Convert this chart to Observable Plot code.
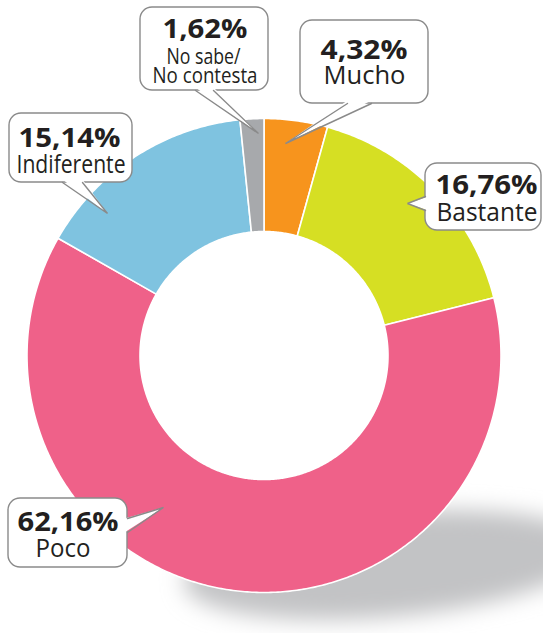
<!DOCTYPE html>
<html><head><meta charset="utf-8">
<script src="https://cdn.jsdelivr.net/npm/d3@7"></script>
<script src="https://cdn.jsdelivr.net/npm/@observablehq/plot@0.6"></script>
<style>html,body{margin:0;padding:0;background:#fff}svg{display:block}</style>
</head><body><div id="chart"></div>
<script>
// ---- data ----
const categories = ["Mucho", "Bastante", "Poco", "Indiferente", "No sabe/No contesta"];
const values = [4.32, 16.76, 62.16, 15.14, 1.62];
const pctLabels = ["4,32%", "16,76%", "62,16%", "15,14%", "1,62%"];
const nameLines = [["Mucho"], ["Bastante"], ["Poco"], ["Indiferente"], ["No sabe/", "No contesta"]];
const colors = ["#f7941d", "#d6df23", "#ef6189", "#7fc3e0", "#a7a9ac"];

// ---- layout ----
const W = 543, H = 633;
const CX = 263.5, CY = 355, R_OUT = 237, R_IN = 124;
const callouts = [
  {x0: 300, y0: 20, x1: 428, y1: 103, edge: "bottom", b1: 347, b2: 371, tip: [285, 143],
   lines: [{cx: 363.5, by: 58, w: 87}, {cx: 364, by: 83, w: 82}]},
  {x0: 425, y0: 163, x1: 541, y1: 230, edge: "left", b1: 196, b2: 210, tip: [407, 203],
   lines: [{cx: 486, by: 193, w: 102}, {cx: 486.5, by: 220, w: 101}]},
  {x0: 8, y0: 498, x1: 127, y1: 567, edge: "right", b1: 518, b2: 532, tip: [163, 507],
   lines: [{cx: 67.5, by: 530, w: 101}, {cx: 62.5, by: 556, w: 55}]},
  {x0: 9, y0: 113, x1: 132, y1: 182, edge: "bottom", b1: 62, b2: 82, tip: [107, 213],
   lines: [{cx: 69, by: 146, w: 102}, {cx: 70.5, by: 172, w: 109}]},
  {x0: 140, y0: 7, x1: 268, y1: 90, edge: "bottom", b1: 195, b2: 213, tip: [258, 133],
   lines: [{cx: 204.5, by: 37, w: 85}, {cx: 203, by: 63, w: 74}, {cx: 204.5, by: 82, w: 105}]}
];

// ---- slice polygons from the values ----
const total = d3.sum(values);
const slicePts = [];
let acc = 0;
categories.forEach((c, i) => {
  const a0 = acc / total * 2 * Math.PI; acc += values[i];
  const a1 = acc / total * 2 * Math.PI;
  const n = Math.max(2, Math.ceil((a1 - a0) / 0.01));
  for (let k = 0; k <= n; k++) { const a = a0 + (a1 - a0) * k / n; slicePts.push({cat: c, x: CX + R_OUT * Math.sin(a), y: CY - R_OUT * Math.cos(a)}); }
  for (let k = n; k >= 0; k--) { const a = a0 + (a1 - a0) * k / n; slicePts.push({cat: c, x: CX + R_IN * Math.sin(a), y: CY - R_IN * Math.cos(a)}); }
});

// ---- callout geometry ----
const boxRows = callouts.map((b, i) => ({...b, id: i}));
const ptrFill = [], ptrLine = [];
callouts.forEach((b, i) => {
  let p1, p2, q1, q2; const d = 3;
  if (b.edge === "bottom") { p1 = [b.b1, b.y1]; p2 = [b.b2, b.y1]; q1 = [b.b1, b.y1 - d]; q2 = [b.b2, b.y1 - d]; }
  if (b.edge === "left") { p1 = [b.x0, b.b1]; p2 = [b.x0, b.b2]; q1 = [b.x0 + d, b.b1]; q2 = [b.x0 + d, b.b2]; }
  if (b.edge === "right") { p1 = [b.x1, b.b1]; p2 = [b.x1, b.b2]; q1 = [b.x1 - d, b.b1]; q2 = [b.x1 - d, b.b2]; }
  [q1, b.tip, q2].forEach(p => ptrFill.push({id: i, x: p[0], y: p[1]}));
  [p1, b.tip, p2].forEach(p => ptrLine.push({id: i, x: p[0], y: p[1]}));
});

const boldRows = [], regRows = [];
categories.forEach((c, i) => {
  const L = callouts[i].lines;
  boldRows.push({text: pctLabels[i], x: L[0].cx, y: L[0].by, w: L[0].w});
  nameLines[i].forEach((s, j) => regRows.push({text: s, x: L[j + 1].cx, y: L[j + 1].by, w: L[j + 1].w, size: nameLines[i].length > 1 ? 21.5 : 26}));
});

const shadow = (index, scales) => {
  const g = d3.create("svg:g");
  const f = g.append("defs").append("filter").attr("id", "shadowBlur")
    .attr("x", "-50%").attr("y", "-100%").attr("width", "200%").attr("height", "300%");
  f.append("feGaussianBlur").attr("stdDeviation", 11);
  const cx = scales.x(388), cy = scales.y(565);
  g.append("ellipse").attr("cx", cx).attr("cy", cy)
    .attr("rx", 205).attr("ry", 52).attr("fill", "#c2c3c5")
    .attr("transform", `rotate(-5 ${cx} ${cy})`)
    .attr("filter", "url(#shadowBlur)");
  return g.node();
};

const svg = Plot.plot({
  width: W, height: H, margin: 0,
  x: {domain: [0, W], range: [0, W], axis: null},
  y: {domain: [0, H], range: [0, H], axis: null},
  color: {domain: categories, range: colors},
  style: {fontFamily: "'Open Sans', sans-serif", background: "white", overflow: "visible"},
  marks: [
    shadow,
    Plot.line(slicePts, {x: "x", y: "y", z: "cat", fill: "cat", stroke: "white", strokeWidth: 1.6, curve: "linear-closed"}),
    Plot.rect(boxRows, {x1: "x0", x2: "x1", y1: "y0", y2: "y1", rx: 12, fill: "white", stroke: "#8a8a8a", strokeWidth: 1.4}),
    Plot.line(ptrFill, {x: "x", y: "y", z: "id", fill: "white", stroke: "none", curve: "linear-closed"}),
    Plot.line(ptrLine, {x: "x", y: "y", z: "id", stroke: "#8a8a8a", strokeWidth: 1.4, strokeLinejoin: "miter"}),
    Plot.text(boldRows, {x: "x", y: "y", text: "text", textAnchor: "middle", lineAnchor: "bottom", fontSize: 27, fontWeight: "bold", fill: "#231f20"}),
    Plot.text(regRows, {x: "x", y: "y", text: "text", textAnchor: "middle", lineAnchor: "bottom", fontSize: "size", fill: "#231f20"})
  ]
});

const groups = svg.querySelectorAll('g[aria-label="text"]');
[boldRows, regRows].forEach((rows, gi) => {
  groups[gi].querySelectorAll("text").forEach((t, k) => {
    t.setAttribute("textLength", rows[k].w);
    t.setAttribute("lengthAdjust", "spacingAndGlyphs");
  });
});
document.getElementById("chart").appendChild(svg);
</script>
</body></html>
